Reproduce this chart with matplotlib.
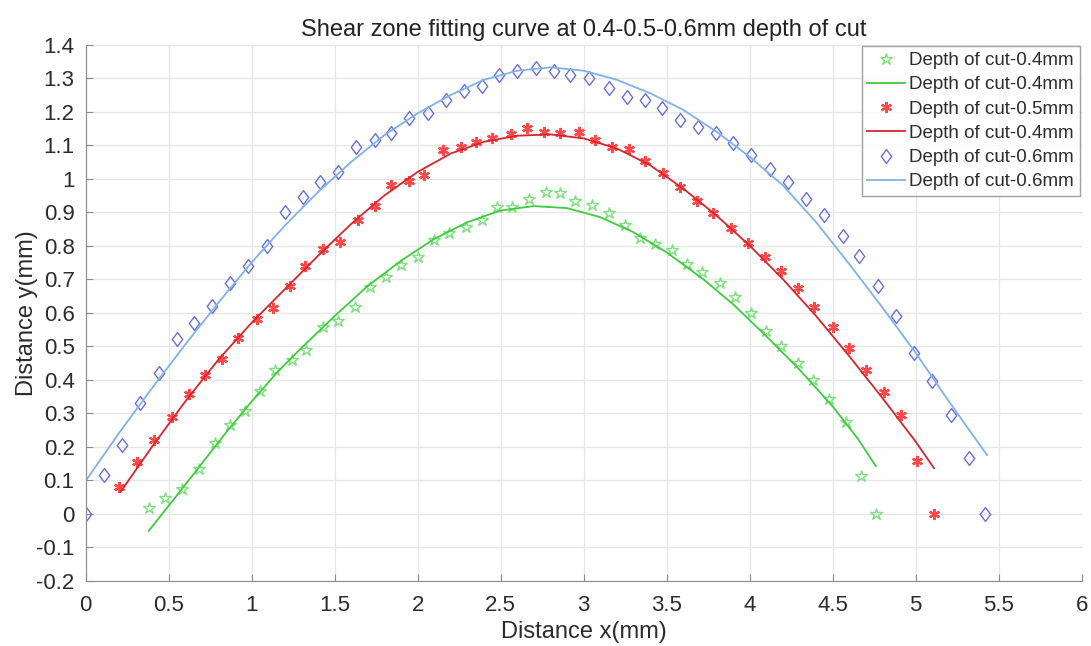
import matplotlib
matplotlib.use('Agg')
import matplotlib.pyplot as plt
from matplotlib.path import Path

plt.rcParams['font.family'] = ['Liberation Sans', 'DejaVu Sans']

# measured points, depth of cut 0.4 mm
x_04 = [0.38, 0.48, 0.58, 0.68, 0.78, 0.87, 0.96, 1.05, 1.14, 1.24, 1.33, 1.43, 1.52, 1.62,
        1.71, 1.81, 1.90, 2.00, 2.10, 2.19, 2.29, 2.39, 2.48, 2.57, 2.67, 2.77, 2.86, 2.95,
        3.05, 3.15, 3.25, 3.34, 3.43, 3.53, 3.62, 3.71, 3.82, 3.91, 4.01, 4.10, 4.19, 4.29,
        4.38, 4.48, 4.58, 4.67, 4.76]
y_04 = [0.017, 0.047, 0.074, 0.133, 0.21, 0.264, 0.306, 0.365, 0.428, 0.46, 0.49, 0.556, 0.574, 0.616,
        0.678, 0.707, 0.742, 0.766, 0.817, 0.837, 0.856, 0.877, 0.915, 0.915, 0.939, 0.96, 0.957, 0.933,
        0.92, 0.897, 0.862, 0.823, 0.805, 0.787, 0.745, 0.722, 0.689, 0.648, 0.60, 0.544, 0.50, 0.451,
        0.40, 0.341, 0.273, 0.112, 0.0]

# measured points, depth of cut 0.5 mm
x_05 = [0.20, 0.31, 0.41, 0.52, 0.62, 0.72, 0.82, 0.92, 1.03, 1.13, 1.23, 1.32, 1.43, 1.53,
        1.64, 1.74, 1.84, 1.95, 2.04, 2.15, 2.26, 2.35, 2.45, 2.56, 2.66, 2.76, 2.86, 2.97,
        3.07, 3.17, 3.27, 3.37, 3.48, 3.58, 3.68, 3.78, 3.89, 3.99, 4.09, 4.19, 4.29, 4.39,
        4.50, 4.60, 4.70, 4.81, 4.91, 5.01, 5.11]
y_05 = [0.08, 0.155, 0.22, 0.29, 0.357, 0.415, 0.463, 0.525, 0.58, 0.615, 0.68, 0.74, 0.79, 0.81,
        0.877, 0.918, 0.98, 0.992, 1.01, 1.085, 1.094, 1.109, 1.12, 1.132, 1.15, 1.14, 1.135, 1.14,
        1.115, 1.094, 1.088, 1.052, 1.016, 0.975, 0.933, 0.897, 0.853, 0.808, 0.765, 0.725, 0.674, 0.618,
        0.558, 0.496, 0.43, 0.362, 0.296, 0.157, 0.0]

# measured points, depth of cut 0.6 mm
x_06 = [0.0, 0.11, 0.22, 0.33, 0.44, 0.55, 0.65, 0.76, 0.87, 0.98, 1.09, 1.20, 1.31, 1.41,
        1.52, 1.63, 1.74, 1.84, 1.95, 2.06, 2.17, 2.28, 2.39, 2.49, 2.60, 2.71, 2.82, 2.92,
        3.03, 3.15, 3.26, 3.37, 3.47, 3.58, 3.69, 3.80, 3.90, 4.01, 4.12, 4.23, 4.34, 4.45,
        4.56, 4.66, 4.77, 4.88, 4.99, 5.10, 5.21, 5.32, 5.42]
y_06 = [0.0, 0.115, 0.205, 0.33, 0.42, 0.52, 0.57, 0.62, 0.69, 0.74, 0.80, 0.90, 0.945, 0.99,
        1.02, 1.095, 1.115, 1.135, 1.18, 1.195, 1.235, 1.26, 1.275, 1.31, 1.32, 1.33, 1.32, 1.31,
        1.30, 1.27, 1.245, 1.235, 1.21, 1.175, 1.155, 1.135, 1.105, 1.07, 1.03, 0.99, 0.94, 0.89,
        0.83, 0.77, 0.68, 0.59, 0.48, 0.395, 0.295, 0.165, 0.0]

# fitted curves
fx_04 = [0.38, 0.55, 0.70, 0.85, 1.00, 1.15, 1.30, 1.50, 1.70, 1.90, 2.10, 2.30, 2.50, 2.70,
         2.90, 3.10, 3.30, 3.50, 3.72, 3.90, 4.10, 4.30, 4.50, 4.65, 4.76]
fy_04 = [-0.051, 0.055, 0.15, 0.245, 0.335, 0.42, 0.495, 0.59, 0.68, 0.755, 0.82, 0.87, 0.905, 0.918,
         0.912, 0.885, 0.84, 0.78, 0.70, 0.625, 0.53, 0.43, 0.32, 0.225, 0.142]

fx_05 = [0.21, 0.40, 0.60, 0.80, 1.00, 1.20, 1.40, 1.60, 1.80, 2.00, 2.20, 2.40, 2.60, 2.80,
         3.00, 3.20, 3.40, 3.60, 3.80, 4.00, 4.20, 4.40, 4.60, 4.80, 5.00, 5.11]
fy_05 = [0.065, 0.20, 0.335, 0.46, 0.57, 0.67, 0.77, 0.865, 0.95, 1.02, 1.075, 1.11, 1.128, 1.132,
         1.12, 1.09, 1.04, 0.97, 0.89, 0.80, 0.70, 0.59, 0.47, 0.345, 0.215, 0.136]

fx_06 = [0.0, 0.20, 0.40, 0.60, 0.80, 1.00, 1.20, 1.40, 1.60, 1.80, 2.00, 2.20, 2.40, 2.60,
         2.80, 3.00, 3.20, 3.40, 3.60, 3.80, 4.00, 4.20, 4.40, 4.60, 4.80, 5.00, 5.20, 5.43]
fy_06 = [0.098, 0.24, 0.375, 0.505, 0.63, 0.75, 0.86, 0.96, 1.05, 1.13, 1.195, 1.25, 1.295, 1.322,
         1.332, 1.322, 1.295, 1.255, 1.205, 1.14, 1.065, 0.98, 0.87, 0.745, 0.615, 0.48, 0.335, 0.175]

diamond = Path([(0, 1), (0.75, 0), (0, -1), (-0.75, 0), (0, 1)],
               [Path.MOVETO, Path.LINETO, Path.LINETO, Path.LINETO, Path.CLOSEPOLY])

fig = plt.figure(figsize=(10.91, 6.46), dpi=100)
ax = fig.add_axes([0.0785, 0.101, 0.913, 0.830])

ax.plot(x_04, y_04, linestyle='none', marker='*', markersize=9, markerfacecolor='none',
        markeredgecolor='#7ee07e', markeredgewidth=1.0, label='Depth of cut-0.4mm')
ax.plot(fx_04, fy_04, color='#3ccc3c', linewidth=1.3, label='Depth of cut-0.4mm')
ax.plot(x_05, y_05, linestyle='none', marker=(6, 2, 0), markersize=8,
        markeredgecolor='#ff4a4a', markeredgewidth=1.6, label='Depth of cut-0.5mm')
ax.plot(fx_05, fy_05, color='#d9242c', linewidth=1.3, label='Depth of cut-0.4mm')
ax.plot(x_06, y_06, linestyle='none', marker=diamond, markersize=10, markerfacecolor='none',
        markeredgecolor='#6a6ee0', markeredgewidth=1.0, label='Depth of cut-0.6mm')
ax.plot(fx_06, fy_06, color='#7fb2e6', linewidth=1.3, label='Depth of cut-0.6mm')

ax.set_xlim(0, 6)
ax.set_ylim(-0.2, 1.4)
ax.set_xticks([0, 0.5, 1, 1.5, 2, 2.5, 3, 3.5, 4, 4.5, 5, 5.5, 6])
ax.set_xticklabels(['0', '0.5', '1', '1.5', '2', '2.5', '3', '3.5', '4', '4.5', '5', '5.5', '6'])
ax.set_yticks([-0.2, -0.1, 0, 0.1, 0.2, 0.3, 0.4, 0.5, 0.6, 0.7, 0.8, 0.9, 1, 1.1, 1.2, 1.3, 1.4])
ax.set_yticklabels(['-0.2', '-0.1', '0', '0.1', '0.2', '0.3', '0.4', '0.5', '0.6', '0.7', '0.8',
                    '0.9', '1', '1.1', '1.2', '1.3', '1.4'])
ax.grid(True, color='#e6e6e6', linewidth=0.9)
ax.set_axisbelow(True)
for side in ['top', 'right']:
    ax.spines[side].set_visible(False)
for side in ['left', 'bottom']:
    ax.spines[side].set_color('#8a8a8a')
ax.tick_params(direction='in', length=5, color='#8a8a8a', labelsize=16, labelcolor='#2b2b2b')
ax.tick_params(axis='x', pad=10)
ax.tick_params(axis='y', pad=8)

ax.set_title('Shear zone fitting curve at 0.4-0.5-0.6mm depth of cut', fontsize=17,
             color='#222222', pad=6)
ax.set_xlabel('Distance x(mm)', fontsize=17, color='#2b2b2b', labelpad=4)
ax.set_ylabel('Distance y(mm)', fontsize=17, color='#2b2b2b', labelpad=-1)

leg = ax.legend(loc='upper right', bbox_to_anchor=(1.0, 1.0), fontsize=13.5, frameon=True,
                fancybox=False, edgecolor='#8a8a8a', handlelength=2.0, handletextpad=0.25,
                borderpad=0.3, labelspacing=0.38, borderaxespad=0.1)
for t in leg.get_texts():
    t.set_color('#2b2b2b')

plt.savefig('out.png', dpi=100)
